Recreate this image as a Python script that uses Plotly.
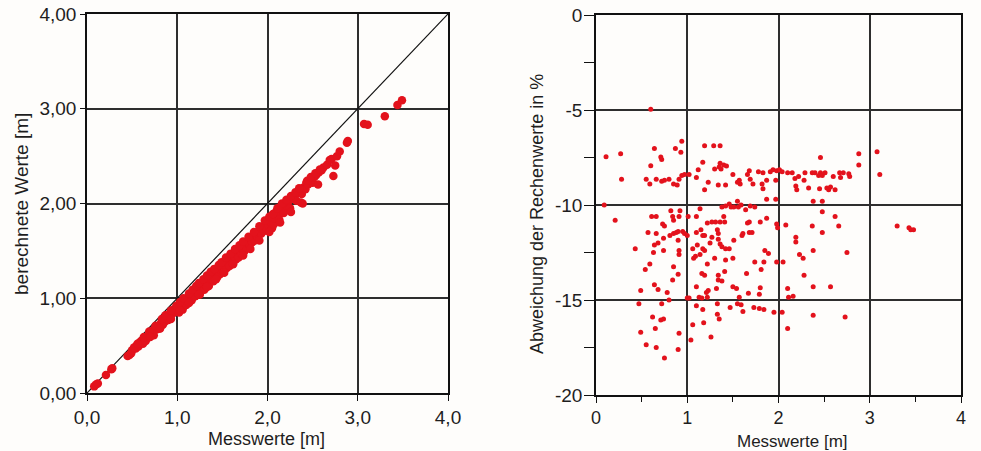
import plotly.graph_objects as go

# ---------------- data: left panel (Messwerte vs berechnete Werte) ----------------
mess_l = [0.08, 0.10, 0.12, 0.21, 0.27, 0.28, 0.45, 0.47, 0.49, 0.50, 0.54, 0.55, 0.57, 0.58,
          0.60, 0.61, 0.62, 0.64, 0.65, 0.66, 0.67, 0.68, 0.70, 0.71, 0.72, 0.73, 0.74, 0.75,
          0.77, 0.79, 0.80, 0.82, 0.84, 0.85, 0.86, 0.88, 0.90, 0.90, 0.92, 0.94, 0.95, 0.96,
          0.98, 1.00, 1.01, 1.02, 1.04, 1.05, 1.06, 1.08, 1.10, 1.10, 1.12, 1.14, 1.15, 1.16,
          1.18, 1.19, 1.20, 1.22, 1.23, 1.25, 1.26, 1.28, 1.30, 1.30, 1.32, 1.34, 1.35, 1.36,
          1.38, 1.40, 1.40, 1.42, 1.44, 1.45, 1.47, 1.48, 1.50, 1.51, 1.53, 1.55, 1.56, 1.58,
          1.60, 1.61, 1.63, 1.65, 1.66, 1.68, 1.70, 1.71, 1.72, 1.74, 1.75, 1.77, 1.78, 1.80,
          1.82, 1.83, 1.84, 1.86, 1.87, 1.89, 1.90, 1.92, 1.93, 1.95, 1.96, 1.98, 1.99, 2.00,
          2.01, 2.03, 2.04, 2.05, 2.07, 2.08, 2.10, 2.12, 2.13, 2.15, 2.17, 2.18, 2.20, 2.22,
          2.23, 2.25, 2.28, 2.30, 2.32, 2.34, 2.36, 2.38, 2.39, 2.40, 2.42, 2.43, 2.45, 2.47,
          2.49, 2.50, 2.52, 2.54, 2.56, 2.57, 2.60, 2.62, 2.66, 2.69, 2.71, 2.73, 2.75, 2.77,
          2.80, 2.88, 2.89, 3.07, 3.11, 3.30, 3.44, 3.49,
          0.52, 0.56, 0.63, 0.69, 0.76, 0.83, 0.87, 0.93, 0.99, 1.03, 1.07, 1.13, 1.17, 1.21,
          1.24, 1.29, 1.33, 1.37, 1.41, 1.46, 1.49, 1.54, 1.59, 1.64, 1.69, 1.73, 1.79, 1.85,
          1.91, 1.97, 2.02, 2.06, 2.11, 2.16, 2.21, 2.26, 2.31, 2.35, 2.44, 2.48, 2.53, 2.58,
          0.70, 0.81, 0.93, 1.03, 1.13, 1.24, 1.33, 1.43, 1.52, 1.62, 1.73, 1.81, 1.91, 2.02,
          2.14, 2.26, 2.37]
ber_l = [0.07, 0.09, 0.10, 0.19, 0.25, 0.26, 0.39, 0.40, 0.42, 0.45, 0.47, 0.50, 0.49, 0.53,
         0.55, 0.54, 0.52, 0.57, 0.55, 0.59, 0.58, 0.60, 0.61, 0.64, 0.63, 0.66, 0.61, 0.68,
         0.67, 0.70, 0.68, 0.74, 0.72, 0.77, 0.75, 0.78, 0.77, 0.82, 0.81, 0.86, 0.84, 0.88,
         0.86, 0.89, 0.91, 0.85, 0.93, 0.90, 0.88, 0.95, 0.97, 0.93, 0.99, 0.97, 1.01, 0.98,
         1.03, 1.05, 1.02, 1.06, 1.08, 1.04, 1.10, 1.12, 1.09, 1.15, 1.14, 1.17, 1.13, 1.19,
         1.21, 1.18, 1.23, 1.25, 1.22, 1.28, 1.25, 1.30, 1.31, 1.28, 1.35, 1.32, 1.37, 1.34,
         1.40, 1.37, 1.44, 1.41, 1.46, 1.43, 1.50, 1.47, 1.52, 1.49, 1.55, 1.53, 1.58, 1.56,
         1.62, 1.59, 1.64, 1.61, 1.67, 1.64, 1.70, 1.72, 1.68, 1.75, 1.71, 1.78, 1.74, 1.82,
         1.77, 1.85, 1.80, 1.74, 1.78, 1.84, 1.92, 1.88, 1.83, 1.96, 1.93, 1.90, 1.99, 1.96,
         2.02, 1.95, 2.05, 2.08, 2.03, 2.11, 2.14, 2.10, 2.00, 2.17, 2.15, 2.22, 2.20, 2.24,
         2.25, 2.22, 2.28, 2.30, 2.20, 2.33, 2.35, 2.38, 2.41, 2.46, 2.47, 2.29, 2.40, 2.50,
         2.55, 2.64, 2.66, 2.84, 2.83, 2.92, 3.04, 3.09,
         0.48, 0.52, 0.59, 0.65, 0.71, 0.78, 0.82, 0.87, 0.92, 0.96, 1.00, 1.05, 1.09, 1.13,
         1.16, 1.20, 1.24, 1.28, 1.31, 1.35, 1.38, 1.43, 1.47, 1.52, 1.56, 1.60, 1.65, 1.70,
         1.76, 1.82, 1.86, 1.89, 1.95, 2.00, 2.04, 2.08, 2.12, 2.16, 2.24, 2.28, 2.32, 2.36,
         0.59, 0.68, 0.78, 0.87, 0.95, 1.04, 1.12, 1.20, 1.27, 1.36, 1.45, 1.52, 1.61, 1.70,
         1.80, 1.91, 2.01]
ref_line = [0.0, 4.0]   # 1:1 line

# ---------------- data: right panel (Messwerte vs Abweichung %) ----------------
mess_r = [0.60, 0.11, 0.27, 0.28, 0.64, 0.60, 0.71, 0.72, 0.55, 0.59, 0.66, 0.72, 0.75, 0.80,
          0.85, 0.87, 0.94, 0.93, 0.89, 0.91, 0.94, 0.97, 1.02, 1.10, 1.12, 1.17, 1.19, 1.29,
          1.36, 1.19, 1.23, 1.30, 1.36, 1.37, 1.40, 1.43, 1.35, 1.34, 1.42, 1.50, 1.55, 1.58,
          1.57, 1.66, 1.68, 1.69, 1.72, 1.78, 1.83, 1.87, 1.83, 1.82, 1.91, 1.94, 1.97, 1.98,
          2.01, 2.04, 2.10, 2.15, 2.18, 2.22, 2.19, 2.20, 2.28, 2.29, 2.33, 2.37, 2.40, 2.46,
          2.44, 2.46, 2.48, 2.45, 2.51, 2.53, 2.55, 2.57, 2.60, 2.62, 2.67, 2.71, 2.68, 2.78,
          2.77, 2.88, 2.88, 3.08, 3.11,
          0.09, 0.21, 0.61, 0.57, 0.66, 0.64, 0.68, 0.73, 0.75, 0.74, 0.66, 0.82, 0.84, 0.85,
          0.81, 0.85, 0.88, 0.90, 0.92, 0.91, 0.95, 0.97, 1.00, 1.01, 0.90, 1.10, 1.14, 1.10,
          1.15, 1.17, 1.19, 1.11, 1.22, 1.27, 1.27, 1.25, 1.31, 1.33, 1.34, 1.34, 1.36, 1.38,
          1.40, 1.41, 1.36, 1.38, 1.42, 1.46, 1.42, 1.46, 1.48, 1.51, 1.55, 1.56, 1.59, 1.69,
          1.74, 1.51, 1.60, 1.61, 1.64, 1.66, 1.68, 1.68, 1.71, 1.80, 1.87, 1.87, 1.97, 1.98,
          1.99, 2.08, 2.19, 2.19, 2.37, 2.38, 2.48, 2.48, 2.48, 2.62, 2.66, 3.30, 3.43, 3.45,
          3.48,
          0.43, 0.63, 0.74, 0.59, 0.54, 0.91, 0.91, 0.85, 0.90, 0.84, 1.06, 1.07, 1.09, 1.14,
          1.17, 1.19, 1.16, 1.19, 1.22, 1.30, 1.42, 1.34, 1.34, 1.41, 1.38, 1.50, 1.65, 1.74,
          1.84, 1.85, 1.89, 1.81, 1.98, 2.05, 2.23, 2.27, 2.28, 2.38, 2.75,
          0.49, 0.47, 0.49, 0.55, 0.62, 0.65, 0.66, 0.64, 0.68, 0.72, 0.71, 0.74, 0.75, 0.78,
          0.80, 0.91, 0.90, 1.00, 1.02, 1.04, 1.06, 1.10, 1.10, 1.13, 1.16, 1.17, 1.18, 1.21,
          1.23, 1.22, 1.26, 1.32, 1.33, 1.33, 1.35, 1.47, 1.50, 1.54, 1.55, 1.57, 1.59, 1.61,
          1.67, 1.79, 1.80, 1.73, 1.79, 1.84, 1.95, 2.04, 2.10, 2.11, 2.16, 2.10, 2.38, 2.38,
          2.57, 2.73]
abw_r = [-4.96, -7.46, -7.30, -8.65, -7.03, -7.93, -7.47, -7.60, -8.65, -8.90, -8.65, -8.75,
         -8.70, -8.65, -8.90, -7.02, -6.65, -7.23, -8.95, -8.65, -8.45, -8.40, -8.40, -8.55,
         -8.15, -7.75, -6.88, -6.88, -6.88, -9.20, -8.80, -8.10, -7.80, -8.10, -7.90, -7.95,
         -8.00, -8.95, -8.95, -8.40, -8.80, -8.90, -8.70, -8.40, -8.20, -8.65, -8.90, -8.25,
         -8.30, -8.70, -9.15, -8.90, -8.25, -8.15, -8.70, -8.20, -8.15, -8.25, -8.30, -8.30,
         -8.60, -8.50, -9.00, -9.20, -8.70, -8.30, -9.10, -8.30, -8.30, -7.50, -8.45, -8.30,
         -8.45, -9.15, -8.30, -9.10, -9.20, -9.05, -8.50, -9.20, -8.30, -8.30, -8.55, -8.50,
         -8.35, -7.30, -7.90, -7.20, -8.40,
         -10.00, -10.80, -10.60, -11.45, -10.60, -12.10, -12.00, -11.00, -11.10, -11.75,
         -11.50, -10.30, -10.60, -10.80, -11.60, -11.50, -11.45, -11.40, -10.30, -10.60,
         -11.40, -11.50, -11.60, -10.60, -11.85, -10.60, -10.20, -11.45, -11.30, -11.60,
         -11.60, -12.10, -10.95, -10.90, -11.70, -12.00, -10.90, -11.30, -11.50, -11.80,
         -10.90, -10.10, -10.60, -10.90, -12.05, -12.20, -12.30, -12.30, -10.05, -9.95,
         -10.10, -10.10, -9.80, -10.10, -10.00, -10.05, -10.10, -11.85, -11.60, -11.50,
         -10.25, -10.95, -10.90, -11.45, -11.45, -10.90, -10.70, -9.70, -9.70, -11.00,
         -11.20, -11.05, -11.70, -11.95, -11.10, -9.80, -9.80, -10.35, -11.45, -10.60,
         -11.10, -11.10, -11.20, -11.30, -11.30,
         -12.30, -12.50, -12.40, -13.10, -13.40, -12.40, -12.60, -13.25, -13.65, -13.95,
         -12.30, -12.80, -12.70, -12.60, -12.30, -12.40, -13.60, -13.70, -13.10, -12.80,
         -12.90, -13.70, -13.95, -13.50, -14.00, -12.80, -13.60, -13.00, -13.00, -12.40,
         -12.55, -13.40, -13.00, -13.00, -12.60, -12.80, -13.70, -12.40, -12.50,
         -14.50, -15.20, -16.70, -17.35, -15.90, -16.50, -17.50, -14.20, -14.45, -15.20,
         -16.05, -16.00, -18.05, -14.60, -15.00, -16.75, -17.60, -14.90, -14.90, -17.10,
         -16.30, -14.30, -15.30, -14.85, -14.90, -15.50, -16.20, -14.60, -14.50, -14.85,
         -16.95, -14.40, -15.20, -15.75, -16.00, -15.40, -14.30, -14.40, -15.20, -14.85,
         -15.25, -15.60, -14.65, -14.70, -14.35, -15.40, -15.45, -15.50, -15.65, -15.65,
         -14.40, -14.85, -14.80, -16.50, -14.30, -15.80, -14.30, -15.90]

# ---------------- tick labels ----------------
l_x_vals = [0, 1, 2, 3, 4]
l_x_text = ["0,0", "1,0", "2,0", "3,0", "4,0"]
l_y_vals = [0, 1, 2, 3, 4]
l_y_text = ["0,00", "1,00", "2,00", "3,00", "4,00"]
r_x_vals = [0, 1, 2, 3, 4]
r_x_text = ["0", "1", "2", "3", "4"]
r_y_vals = [-20, -15, -10, -5, 0]
r_y_text = ["-20", "-15", "-10", "-5", "0"]

RED = "#e3121c"
BG = "#fefdfb"
FONT = "Liberation Sans, Arial, sans-serif"
TXT = "#1e1e1e"
GRID = "#2e2e2e"

fig = go.Figure()
fig.add_trace(go.Scatter(x=ref_line, y=ref_line, mode="lines",
                         line=dict(color="#111111", width=1.2),
                         xaxis="x", yaxis="y", showlegend=False, hoverinfo="skip"))
fig.add_trace(go.Scatter(x=mess_l, y=ber_l, mode="markers",
                         marker=dict(color=RED, size=8.5, line=dict(width=0)),
                         xaxis="x", yaxis="y", showlegend=False))
fig.add_trace(go.Scatter(x=mess_r, y=abw_r, mode="markers",
                         marker=dict(color=RED, size=5, line=dict(width=0)),
                         xaxis="x2", yaxis="y2", showlegend=False))

W, H = 981, 451
def px_x(p): return p / W
def px_y(p): return (H - p) / H

axis_common = dict(showline=True, linecolor="#111111", linewidth=1.5, mirror=True,
                   showgrid=True, gridcolor=GRID, gridwidth=1.6, zeroline=False,
                   ticks="outside", tickcolor="#111111", tickmode="array", automargin=False)
tf19 = dict(family=FONT, size=19, color=TXT)
tf18 = dict(family=FONT, size=18, color=TXT)

fig.update_layout(
    width=W, height=H, margin=dict(l=0, r=0, t=0, b=0),
    paper_bgcolor=BG, plot_bgcolor=BG,
    xaxis=dict(domain=[px_x(87), px_x(448)], range=[0, 4], anchor="y", tickfont=tf19,
               tickvals=l_x_vals, ticktext=l_x_text, ticklen=6, **axis_common),
    yaxis=dict(domain=[px_y(393), px_y(14)], range=[0, 4], anchor="x", tickfont=tf19,
               tickvals=l_y_vals, ticktext=l_y_text, ticklen=5, **axis_common),
    xaxis2=dict(domain=[px_x(596), px_x(961)], range=[0, 4], anchor="y2", tickfont=tf18,
                tickvals=r_x_vals, ticktext=r_x_text, ticklen=6,
                minor=dict(dtick=0.5, tick0=0, ticks="outside", ticklen=5,
                           tickcolor="#111111", showgrid=False),
                **axis_common),
    yaxis2=dict(domain=[px_y(395), px_y(15)], range=[-20, 0], anchor="x2", tickfont=tf19,
                tickvals=r_y_vals, ticktext=r_y_text, ticklen=8,
                minor=dict(dtick=2.5, tick0=0, ticks="outside", ticklen=10,
                           tickcolor="#111111", showgrid=False),
                **axis_common),
    annotations=[
        dict(text="berechnete Werte [m]", x=px_x(22), y=px_y(204), xref="paper", yref="paper",
             textangle=-90, showarrow=False, font=dict(family=FONT, size=19, color=TXT),
             xanchor="center", yanchor="middle"),
        dict(text="Messwerte [m]", x=px_x(266), y=px_y(439), xref="paper", yref="paper",
             showarrow=False, font=dict(family=FONT, size=18, color=TXT),
             xanchor="center", yanchor="middle"),
        dict(text="Abweichung der Rechenwerte in %", x=px_x(537), y=px_y(214), xref="paper",
             yref="paper", textangle=-90, showarrow=False,
             font=dict(family=FONT, size=18, color=TXT), xanchor="center", yanchor="middle"),
        dict(text="Messwerte [m]", x=px_x(792), y=px_y(441), xref="paper", yref="paper",
             showarrow=False, font=dict(family=FONT, size=17, color=TXT),
             xanchor="center", yanchor="middle"),
    ],
)

fig.write_html("out.html")
